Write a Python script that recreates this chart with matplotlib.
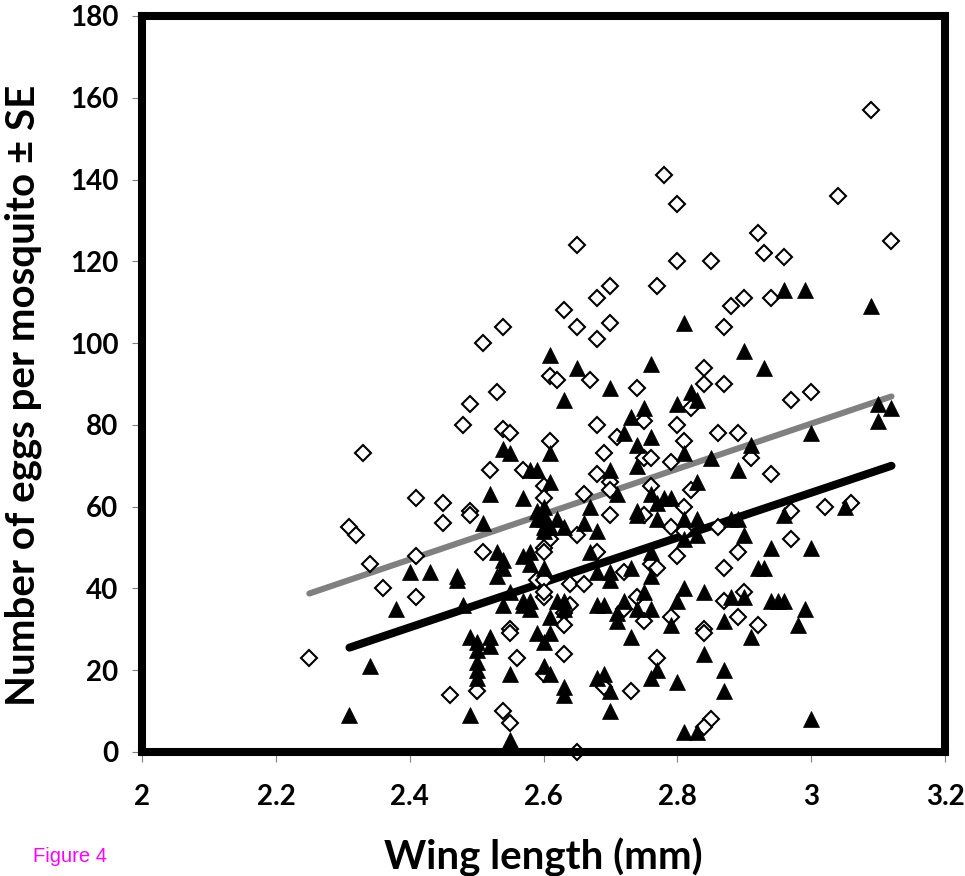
import numpy as np
import matplotlib
matplotlib.use('Agg')
import matplotlib.pyplot as plt

# open diamonds (wing length mm, eggs)
dia_x = [2.49, 2.48, 2.33, 2.52, 2.41, 2.45, 2.49, 2.49, 2.45, 2.31, 2.32, 2.51, 2.41, 2.34, 2.36, 2.41, 2.25, 2.46, 2.50,
         2.54, 2.55, 2.61, 2.68, 2.71, 2.75, 2.80, 2.82, 2.81, 2.69, 2.75, 2.76, 2.79, 2.57, 2.68, 2.70, 2.70, 2.60, 2.76,
         2.82, 2.66, 2.60, 2.81, 2.70, 2.75, 2.79, 2.65, 2.61, 2.60, 2.60, 2.68, 2.81, 2.80, 2.76, 2.77, 2.72, 2.59, 2.60,
         2.64, 2.66, 2.60, 2.60, 2.64, 2.74, 2.72, 2.63, 2.63, 2.75, 2.79, 2.55, 2.55, 2.56, 2.63, 2.77, 2.60, 2.69, 2.73,
         2.54, 2.55, 2.65,
         2.97, 2.86, 2.89, 2.91, 2.94, 2.97, 3.02, 3.06, 2.86, 2.97, 2.89, 2.87, 2.90, 2.87, 2.89, 2.92, 2.84, 2.84, 2.85,
         2.84,
         3.09, 2.78, 2.80, 3.04, 2.92, 3.12, 2.65, 2.93, 2.96, 2.80, 2.85, 2.70, 2.77, 2.68, 2.90, 2.94, 2.88, 2.63, 2.54,
         2.65, 2.70, 2.87, 2.51, 2.68, 2.84, 2.61, 2.62, 2.67, 2.74, 2.84, 2.87, 2.53, 3.00]
dia_y = [85, 80, 73, 69, 62, 61, 59, 58, 56, 55, 53, 49, 48, 46, 40, 38, 23, 14, 15,
         79, 78, 76, 80, 77, 81, 80, 84, 76, 73, 72, 72, 71, 69, 68, 66, 64, 65, 65,
         64, 63, 62, 60, 58, 58, 55, 53, 52, 50, 49, 49, 54, 48, 46, 45, 44, 42, 42,
         41, 41, 38, 39, 36, 38, 35, 34, 31, 32, 33, 30, 29, 23, 24, 23, 19, 16, 15,
         10, 7, 0,
         86, 78, 78, 72, 68, 59, 60, 61, 55, 52, 49, 45, 39, 37, 33, 31, 30, 29, 8,
         6,
         157, 141, 134, 136, 127, 125, 124, 122, 121, 120, 120, 114, 114, 111, 111, 111, 109, 108, 104,
         104, 105, 104, 100, 101, 94, 92, 91, 91, 89, 90, 90, 88, 88]

# filled triangles
tri_x = [2.52, 2.51, 2.53, 2.53, 2.40, 2.43, 2.47, 2.47, 2.38, 2.48, 2.49, 2.50, 2.52, 2.50, 2.52, 2.50, 2.50, 2.50,
         2.34, 2.31, 2.49,
         2.73, 2.75, 2.80, 2.72, 2.76, 2.74, 2.54, 2.55, 2.61, 2.81, 2.74, 2.58, 2.59, 2.70, 2.61, 2.71, 2.76, 2.78,
         2.79, 2.77, 2.83, 2.57, 2.59, 2.60, 2.60, 2.60, 2.59, 2.60, 2.60, 2.61, 2.63, 2.62, 2.67, 2.66, 2.68, 2.74,
         2.74, 2.77, 2.81, 2.83, 2.81, 2.76, 2.57, 2.58, 2.58, 2.54, 2.54, 2.67, 2.60, 2.68, 2.70, 2.70, 2.73, 2.76,
         2.55, 2.54, 2.57, 2.58, 2.57, 2.58, 2.62, 2.63, 2.63, 2.61, 2.68, 2.69, 2.72, 2.71, 2.71, 2.75, 2.74, 2.76,
         2.80, 2.81, 2.79, 2.59, 2.60, 2.61, 2.73, 2.55, 2.60, 2.61, 2.63, 2.63, 2.68, 2.69, 2.70, 2.76, 2.77, 2.80,
         2.70, 2.55, 2.81, 2.83,
         3.10, 3.12, 3.10, 3.00, 2.91, 2.85, 2.89, 3.05, 2.96, 2.88, 2.89, 2.83, 2.90, 2.94, 3.00, 2.92, 2.93, 2.84,
         2.88, 2.90, 2.94, 2.95, 2.96, 2.99, 2.87, 2.98, 2.91, 2.84, 2.87, 2.87, 3.00,
         2.96, 2.99, 3.09, 2.81, 2.90, 2.61, 2.65, 2.76, 2.93, 2.70, 2.63, 2.82, 2.83]
tri_y = [63, 56, 49, 43, 44, 44, 43, 42, 35, 36, 28, 27, 28, 25, 26, 22, 20, 18,
         21, 9, 9,
         82, 84, 85, 78, 77, 75, 74, 73, 73, 73, 70, 69, 69, 69, 66, 63, 63, 62,
         62, 61, 66, 62, 59, 60, 58, 57, 57, 55, 54, 55, 55, 57, 60, 56, 54, 59,
         58, 57, 57, 57, 52, 49, 48, 49, 46, 47, 45, 49, 45, 44, 44, 42, 45, 43,
         39, 36, 37, 37, 36, 35, 37, 37, 35, 33, 36, 36, 37, 34, 32, 39, 35, 35,
         37, 40, 31, 29, 27, 29, 28, 19, 21, 19, 16, 14, 18, 19, 15, 18, 20, 17,
         10, 3, 5, 5,
         85, 84, 81, 78, 75, 72, 69, 60, 58, 57, 57, 53, 53, 50, 50, 45, 45, 39,
         38, 38, 37, 37, 37, 35, 32, 31, 28, 24, 20, 15, 8,
         113, 113, 109, 105, 98, 97, 94, 95, 94, 89, 86, 88, 86]

# linear trends: eggs = slope * wing + intercept
dia_fit = (55.4, -85.9)
tri_fit = (54.9, -101.3)

dia_x = np.array(dia_x)
tri_x = np.array(tri_x)

fig = plt.figure(figsize=(9.65, 8.76), dpi=100)
ax = fig.add_axes([0.1472, 0.1416, 0.8321, 0.8402])

lx = np.array([dia_x.min(), dia_x.max()])
ax.plot(lx, dia_fit[0] * lx + dia_fit[1], color='#808080', lw=4.4, solid_capstyle='round', zorder=3)
lx = np.array([tri_x.min(), tri_x.max()])
ax.plot(lx, tri_fit[0] * lx + tri_fit[1], color='black', lw=5.8, solid_capstyle='round', zorder=3)

ax.plot(dia_x, dia_y, 'D', ms=7.8, mfc='white', mec='black', mew=1.5, zorder=4, clip_on=False)
ax.plot(tri_x, tri_y, '^', ms=11.5, mfc='black', mec='black', mew=0.5, zorder=4, clip_on=False)

ax.set_xlim(2, 3.2)
ax.set_ylim(0, 180)
ax.set_xticks(np.arange(2, 3.21, 0.2))
ax.set_xticklabels(['2', '2.2', '2.4', '2.6', '2.8', '3', '3.2'])
ax.set_yticks(np.arange(0, 181, 20))

for s in ax.spines.values():
    s.set_linewidth(5.8)
    s.set_capstyle('projecting')
    s.set_zorder(5)

ax.tick_params(direction='out', length=7, width=0.8, color='#808080', pad=10)
ax.tick_params(axis='x', pad=16)
for lab in ax.get_xticklabels() + ax.get_yticklabels():
    lab.set_fontfamily('Lato')
    lab.set_fontweight('bold')
    lab.set_fontsize(20)

ax.set_xlabel('Wing length (mm)', fontfamily='Lato', fontweight='bold', fontsize=29, labelpad=20)
ax.set_ylabel('Number of eggs per mosquito \u00b1 SE', fontfamily='Lato', fontweight='bold', fontsize=29)
ax.yaxis.set_label_coords(-0.125, 0.485)

fig.text(0.034, 0.016, 'Figure 4', color='#ff00ff', fontsize=14.5, fontfamily='Liberation Sans')

plt.savefig('out.png', dpi=100)
